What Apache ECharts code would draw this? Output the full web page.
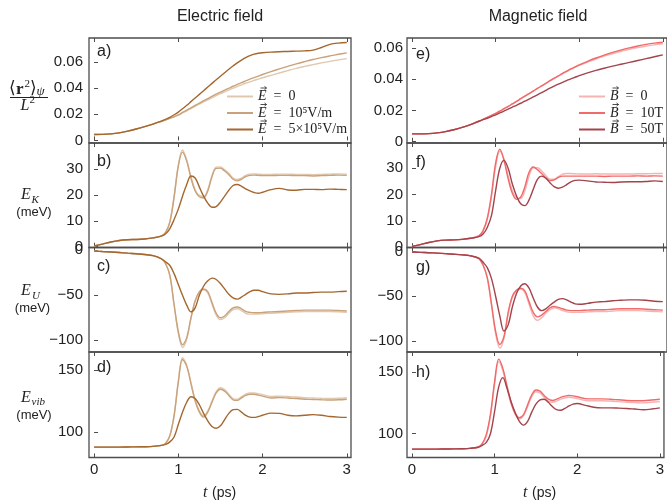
<!DOCTYPE html>
<html><head><meta charset="utf-8">
<script src="https://cdn.jsdelivr.net/npm/echarts@6/dist/echarts.min.js"></script>
<style>html,body{margin:0;padding:0;background:#fff}#c{width:667px;height:500px}</style>
</head><body><div id="c"></div><script>
// time grid (ps)
const T = [0,0.1,0.2,0.3,0.4,0.5,0.6,0.7,0.8,0.85,0.9,0.95,1.0,1.05,1.1,1.15,1.2,1.25,1.3,1.35,1.4,1.45,1.5,1.55,1.6,1.65,1.7,1.75,1.8,1.85,1.9,1.95,2.0,2.1,2.2,2.3,2.4,2.5,2.6,2.7,2.8,2.9,3.0];

// a) <r^2>/L^2, electric field
const aE0 = [0.0045,0.0046,0.005,0.0058,0.0071,0.0087,0.0105,0.0125,0.0147,0.0158,0.017,0.0181,0.0193,0.021,0.0227,0.0244,0.0261,0.0278,0.0295,0.0311,0.0327,0.0343,0.0358,0.0372,0.0386,0.04,0.0413,0.0426,0.0438,0.0449,0.046,0.047,0.048,0.0499,0.0517,0.0535,0.0552,0.0567,0.0581,0.0594,0.0606,0.0617,0.0627];
const aE1 = [0.0045,0.0046,0.005,0.0058,0.0071,0.0087,0.0105,0.0125,0.0147,0.0158,0.017,0.0181,0.0196,0.0214,0.0232,0.025,0.0268,0.0286,0.0304,0.0321,0.0338,0.0354,0.037,0.0385,0.04,0.0415,0.0429,0.0443,0.0456,0.0469,0.0481,0.0493,0.0505,0.0527,0.0548,0.0568,0.0587,0.0604,0.062,0.0635,0.0648,0.066,0.0671];
const aE5 = [0.0045,0.0046,0.005,0.0058,0.0071,0.0087,0.0105,0.0125,0.0147,0.0162,0.0177,0.0196,0.0217,0.0242,0.0269,0.0297,0.0325,0.0353,0.0381,0.0409,0.0437,0.0465,0.0492,0.0519,0.0545,0.057,0.0594,0.0615,0.0634,0.065,0.0661,0.0668,0.0672,0.0677,0.068,0.0682,0.0684,0.0686,0.0692,0.0712,0.0736,0.0746,0.075];

// b) E_K (meV), electric field
const bE0 = [0.3,1.0,1.8,2.4,2.7,2.8,3.0,3.4,4.2,5.6,9.8,19.5,31.5,37.3,33.5,27,22,19.8,19.3,22,27.5,30.7,30.8,29.7,28.3,26.5,25.9,26.5,27.5,28,28.1,28,27.9,27.9,28,28,27.9,27.9,27.8,27.9,28,28.1,28];
const bE1 = [0.3,1.0,1.8,2.4,2.7,2.8,3.0,3.4,4.2,5.5,9.5,19,31,36.5,33,26.5,21.5,19.3,18.8,21.5,27,30.2,30.3,29.2,27.8,26,25.4,26,27,27.5,27.6,27.5,27.4,27.4,27.5,27.5,27.4,27.4,27.3,27.4,27.5,27.6,27.5];
const bE5 = [0.3,1.0,1.8,2.4,2.7,2.8,3.0,3.4,4.1,5.0,7.0,10.5,14.5,19.5,24,27.3,26.5,23,19.5,16.8,15.2,15.5,17.2,19.5,21.8,23.6,24,23.3,22.3,21.5,20.9,20.6,21,22,22.5,21.9,21.8,22.1,22.1,22,22.2,22.1,22];

// c) E_U (meV), electric field
const cE0 = [-1,-1.5,-2,-2.6,-3.3,-4,-4.8,-6,-9.5,-15,-28.5,-61,-92,-108,-99,-76,-57,-47,-44,-47.5,-60,-72,-77,-75,-70,-66,-65,-67,-70,-71,-71,-71,-70.5,-70,-69.5,-69,-68.5,-68,-68,-68,-68,-68.5,-69];
const cE1 = [-1,-1.5,-2,-2.6,-3.3,-4,-4.8,-6,-9.5,-15,-28,-60,-90,-105,-97,-75,-56,-46,-43,-46,-58,-70,-75,-73,-68,-64,-63,-65,-68,-69,-69.5,-69.5,-69,-68.5,-68,-67.5,-67,-66.5,-66.5,-66.5,-66.5,-67,-67.5];
const cE5 = [-1,-1.5,-2,-2.6,-3.3,-4,-4.8,-6,-9.5,-13,-17,-26,-38,-50,-61,-68.5,-64,-50,-40,-34,-31,-32.5,-37,-43,-49,-53,-54.3,-52,-49,-46,-44.5,-44.5,-46,-48.5,-49,-48.5,-47.5,-47.5,-47,-46.5,-46.5,-46,-45.5];

// d) E_vib (meV), electric field
const dE0 = [87.8,87.8,87.8,87.8,87.9,88,88.1,88.4,89.2,91,97.3,113.5,141,160,154,140,126,117,113,117,125,132.5,135.7,134.2,130.5,127,126.5,128.5,130.5,131.6,131.6,131,130.2,128.7,129,128.7,128.2,127.7,127.5,127.2,127,127.2,127.7];
const dE1 = [87.8,87.8,87.8,87.8,87.9,88,88.1,88.4,89.2,91,97,113,140,158.5,153,139,125,116,112,116,124,131.5,134.5,133,129.5,126,125.5,127.5,129.5,130.5,130.5,129.8,129,127.5,127.8,127.5,127,126.5,126.3,126,125.8,126,126.5];
const dE5 = [87.8,87.8,87.8,87.8,87.9,88,88.1,88.4,89.2,90,92,96,106,116,124,128.5,127,122,115,109,104.5,103,105,110,115,118,118.3,116,113.5,112,111.8,112.5,113.5,115.2,115,113.5,113,113.5,114,113.5,112.5,112,111.8];

// e) <r^2>/L^2, magnetic field
const eB0 = [0.005,0.005,0.0052,0.0057,0.0065,0.0077,0.0092,0.011,0.0131,0.0143,0.0155,0.0168,0.0182,0.0196,0.0211,0.0226,0.0242,0.0258,0.0275,0.0291,0.0308,0.0324,0.0341,0.0357,0.0373,0.0389,0.0404,0.0419,0.0434,0.0448,0.0462,0.0475,0.0488,0.0509,0.0529,0.0547,0.0563,0.0578,0.0591,0.0602,0.0611,0.0619,0.0626];
const eB10 = [0.005,0.005,0.0052,0.0057,0.0065,0.0077,0.0092,0.011,0.0131,0.0143,0.0155,0.0168,0.0182,0.0196,0.0211,0.0226,0.0242,0.0258,0.0275,0.0291,0.0308,0.0324,0.0341,0.0357,0.0373,0.039,0.0406,0.0421,0.0437,0.0451,0.0465,0.0478,0.0491,0.0514,0.0535,0.0554,0.0571,0.0586,0.06,0.0612,0.0622,0.063,0.0636];
const eB50 = [0.005,0.005,0.0052,0.0057,0.0065,0.0077,0.0092,0.011,0.0131,0.0141,0.015,0.0161,0.0172,0.0184,0.0196,0.0208,0.0221,0.0233,0.0246,0.0259,0.0273,0.0286,0.03,0.0314,0.0328,0.0342,0.0355,0.0368,0.038,0.0391,0.0402,0.0412,0.0422,0.044,0.0456,0.047,0.0483,0.0495,0.0507,0.0519,0.0531,0.0543,0.0555];

// f) E_K (meV), magnetic field
const fB0 = [0.3,1.0,1.8,2.4,2.7,2.8,3.0,3.4,4.3,6.0,10.5,19,30.5,36.5,33.5,27,21.5,18.8,18.5,21.5,27,30.2,30.2,29,27.3,25.8,25.8,26.8,27.8,28,28,27.9,27.8,27.8,27.9,27.8,27.8,27.8,27.8,27.9,27.9,28,28];
const fB10 = [0.3,1.0,1.8,2.4,2.7,2.8,3.0,3.4,4.3,6.3,11,20,32,37.2,33,26,20.5,18.2,19,23,28.5,30.5,29.5,28,26.5,25.3,25.6,26.5,27,27,27,27,27,27,27,26.9,27,27,27,27.1,27,27.1,27];
const fB50 = [0.3,1.0,1.8,2.4,2.7,2.8,3.0,3.4,4.0,5.0,7.5,12,21.5,30,33,30,24,19.5,16.5,15.8,18,22,25.8,27,26.2,24.5,23,22.4,22.8,23.8,24.8,25.4,25.5,25.2,24.8,24.7,24.6,24.8,24.9,24.9,25,25.2,25];

// g) E_U (meV), magnetic field
const gB0 = [-0.5,-0.9,-1.3,-1.8,-2.4,-3,-3.7,-4.8,-8,-15,-30,-60,-92,-108,-97,-70,-51,-44,-42,-46,-59,-72,-77,-74,-69,-65,-63,-64,-66,-67.5,-68,-68,-68,-67.5,-67,-67,-66.5,-66,-66,-66,-66.5,-67,-67.5];
const gB10 = [-0.5,-0.9,-1.3,-1.8,-2.4,-3,-3.7,-4.8,-8,-15,-29,-58,-89,-104,-95,-68,-50,-43,-41,-44,-56,-68,-73,-71,-67,-63,-61.5,-62.5,-64,-65.5,-66,-66,-66,-65.5,-65,-65,-64.5,-64,-64,-64,-64.5,-65,-65.5];
const gB50 = [-0.5,-0.9,-1.3,-1.8,-2.4,-3,-3.7,-4.8,-7.5,-12,-18,-30,-50,-72,-89,-82,-62,-47,-38.5,-36,-41,-52,-62,-66,-64,-60,-56.5,-53.5,-52.6,-54,-56.5,-58.5,-59,-58,-56.5,-56,-55,-54.5,-54,-54,-54.5,-55.5,-56];

// h) E_vib (meV), magnetic field
const hB0 = [87.5,87.5,87.5,87.5,87.6,87.7,87.8,88.1,89,91.5,98,114,140,158.5,151,137,124,115.5,112,114.5,122,130,134,133,129.5,126.5,125.5,126.5,128,129,129.5,129.2,128.5,127,126.8,126.8,126.5,126,125.5,125.2,125,125.5,126];
const hB10 = [87.5,87.5,87.5,87.5,87.6,87.7,87.8,88.1,89,92,99.5,116,142,160.5,153,139,125.5,116.5,113,115.5,123.5,131.5,135.5,134.5,131,128,127,128,129.5,130.5,131,130.7,130,128.5,128.3,128.3,128,127.5,127,126.8,126.8,127.3,128];
const hB50 = [87.5,87.5,87.5,87.5,87.6,87.7,87.8,88.1,89,90.5,93,100,118,138,145.5,137,126,117,110,107,110,117.5,124,127.5,128,125.5,122,119.5,119,120.5,122.5,124,124.5,123,121.5,121,121,120.8,120.5,120,119.5,120,121];

// tick labels
const xTicks = [0,1,2,3];
const yTicksR2 = [0,0.02,0.04,0.06];
const yTicksEK = [0,10,20,30];
const yTicksEU = [-100,-50,0];
const yTicksEvib = [100,150];

const legendLabels = {
  E0:'{i|E}\u2002=\u20020', E1:'{i|E}\u2002=\u200210⁵V/m', E5:'{i|E}\u2002=\u20025×10⁵V/m',
  B0:'{i|B}\u2002=\u20020', B10:'{i|B}\u2002=\u200210T', B50:'{i|B}\u2002=\u200250T'
};
const colors = {E0:'#e0c8ae', E1:'#c9a27c', E5:'#a4672e', B0:'#f7b2b2', B10:'#f06a6a', B50:'#a3434b'};

const colLeft = [89, 407], colW = 262;
const rowTops = [38, 143, 247.5, 352], rowHs = [105, 104.5, 104.5, 105.5];

const r2fmt = v => v === 0 ? '0' : v.toFixed(2);
const numfmt = v => String(v).replace('-', '\u2212');

const panels = [
  {col:0,row:0,y:[-0.002,0.0785],ticks:yTicksR2,fmt:r2fmt,lm:6,s:[['E0',aE0],['E1',aE1],['E5',aE5]]},
  {col:0,row:1,y:[-0.3,40],ticks:yTicksEK,fmt:numfmt,lm:6,s:[['E0',bE0],['E1',bE1],['E5',bE5]]},
  {col:0,row:2,y:[-113,3],ticks:yTicksEU,fmt:numfmt,lm:6,s:[['E0',cE0],['E1',cE1],['E5',cE5]]},
  {col:0,row:3,y:[79.4,164.6],ticks:yTicksEvib,fmt:numfmt,lm:6,s:[['E0',dE0],['E1',dE1],['E5',dE5]]},
  {col:1,row:0,y:[-0.0008,0.0663],ticks:yTicksR2,fmt:r2fmt,lm:4,s:[['B0',eB0],['B10',eB10],['B50',eB50]]},
  {col:1,row:1,y:[-0.1,39.6],ticks:yTicksEK,fmt:numfmt,lm:4,s:[['B0',fB0],['B10',fB10],['B50',fB50]]},
  {col:1,row:2,y:[-112.3,4.5],ticks:yTicksEU,fmt:numfmt,lm:4,s:[['B0',gB0],['B10',gB10],['B50',gB50]]},
  {col:1,row:3,y:[80.7,166.3],ticks:yTicksEvib,fmt:numfmt,lm:4,s:[['B0',hB0],['B10',hB10],['B50',hB50]]}
];

const FRAME = '#4d4d4d';
const SANS = 'Liberation Sans, Arial, sans-serif';
const SERIF = 'Liberation Serif, DejaVu Serif, serif';
const grid = [], xAxis = [], yAxis = [], series = [];
panels.forEach((p, i) => {
  grid.push({left: colLeft[p.col], top: rowTops[p.row], width: colW, height: rowHs[p.row],
    show: true, borderColor: FRAME, borderWidth: 1.3, backgroundColor: 'transparent', containLabel: false});
  const tick = {show: true, inside: true, length: 4, customValues: xTicks, lineStyle: {color: FRAME, width: 1}};
  xAxis.push({type:'value', gridIndex:i, position:'bottom', min:-0.06, max:3.05,
    axisLine:{show:false}, splitLine:{show:false}, axisTick: tick,
    axisLabel:{show: p.row === 3, customValues: xTicks, margin: 5, fontSize: 15, color:'#222', fontFamily: SANS}});
  xAxis.push({type:'value', gridIndex:i, position:'top', min:-0.06, max:3.05,
    axisLine:{show:false}, splitLine:{show:false}, axisTick: tick, axisLabel:{show:false}});
  yAxis.push({type:'value', gridIndex:i, min:p.y[0], max:p.y[1],
    axisLine:{show:false}, splitLine:{show:false},
    axisTick:{show:true, inside:true, length:4, customValues:p.ticks, lineStyle:{color:FRAME, width:1}},
    axisLabel:{customValues:p.ticks, formatter:p.fmt, margin:p.lm, fontSize:15, color:'#222', fontFamily:SANS, showMinLabel:true, showMaxLabel:true}});
  p.s.forEach(([name, vals]) => {
    series.push({type:'line', name, xAxisIndex: 2*i, yAxisIndex: i,
      data: T.map((t, k) => [t, vals[k]]), showSymbol:false, symbol:'none', smooth:0.35,
      lineStyle:{width:1.4, color: colors[name]}, itemStyle:{color: colors[name]}, animation:false});
  });
});

const legendCommon = {orient:'vertical', icon:'rect', itemWidth:26, itemHeight:2, itemGap:2.5, padding:0, selectedMode:false,
  formatter: n => legendLabels[n],
  textStyle:{fontSize:14, lineHeight:14, color:'#222', fontFamily:SERIF,
    rich:{i:{fontStyle:'italic', fontSize:14, lineHeight:14, fontFamily:SERIF}}}};
const legend = [
  Object.assign({}, legendCommon, {left:227, top:89.5, data:['E0','E1','E5']}),
  Object.assign({}, legendCommon, {left:579, top:89.5, data:['B0','B10','B50']})
];

function txt(x, y, text, font, extra) {
  return {type:'text', x, y, style:Object.assign({text, font, fill:'#222', textVerticalAlign:'middle'}, extra||{})};
}
const graphic = [
  txt(220, 17, 'Electric field', '16px ' + SANS, {textAlign:'center'}),
  txt(538, 17, 'Magnetic field', '16px ' + SANS, {textAlign:'center'}),
  // panel letters
  txt(97, 52, 'a)', '16px ' + SANS), txt(97, 162, 'b)', '16px ' + SANS),
  txt(97, 267, 'c)', '16px ' + SANS), txt(97, 368, 'd)', '16px ' + SANS),
  txt(416, 55, 'e)', '16px ' + SANS), txt(416, 163, 'f)', '16px ' + SANS),
  txt(416, 268, 'g)', '16px ' + SANS), txt(416, 373, 'h)', '16px ' + SANS),
  // fraction label <r^2>_psi / L^2
  txt(9, 88.5, '\u27E8', '17px ' + SERIF),
  txt(16, 89.5, 'r', 'bold 17px ' + SERIF),
  txt(24.5, 84.5, '2', '11px ' + SERIF),
  txt(30, 88.5, '\u27E9', '17px ' + SERIF),
  txt(36.5, 92, '\u03C8', 'italic 13px ' + SERIF),
  {type:'line', shape:{x1:10, y1:97.5, x2:48, y2:97.5}, style:{stroke:'#222', lineWidth:1}},
  txt(20.5, 106, 'L', 'italic 16px ' + SERIF),
  txt(29.5, 100.5, '2', '11px ' + SERIF),
  // E_K
  txt(21, 195, 'E', 'italic 16px ' + SERIF),
  txt(31.5, 200, 'K', 'italic 11px ' + SERIF),
  txt(34, 212.5, '(meV)', '13px ' + SANS, {textAlign:'center'}),
  // E_U
  txt(21, 290.5, 'E', 'italic 16px ' + SERIF),
  txt(32, 296, 'U', 'italic 11px ' + SERIF),
  txt(32.5, 308, '(meV)', '13px ' + SANS, {textAlign:'center'}),
  // E_vib
  txt(21, 398, 'E', 'italic 16px ' + SERIF),
  txt(31.5, 402, 'vib', 'italic 11px ' + SERIF),
  txt(34, 415.5, '(meV)', '13px ' + SANS, {textAlign:'center'}),
  // x labels
  txt(203, 493, 't', 'italic 16px ' + SERIF),
  txt(212, 493, '(ps)', '14px ' + SANS),
  txt(523, 493, 't', 'italic 16px ' + SERIF),
  txt(532, 493, '(ps)', '14px ' + SANS)
];
// small vector arrows above the legend symbols E and B
const legendRowsY = [96.5, 113, 129.5];
const arrowX = [260.5, 612.5];
arrowX.forEach((ax, c) => legendRowsY.forEach((ry, r) => {
  const y = ry - 8.5;
  graphic.push({type:'line', id:'arl'+c+r, z:100, shape:{x1:ax, y1:y, x2:ax+6, y2:y}, style:{stroke:'#222', lineWidth:0.8}});
  graphic.push({type:'polyline', id:'arh'+c+r, z:100, shape:{points:[[ax+4,y-1.6],[ax+6,y],[ax+4,y+1.6]]}, style:{stroke:'#222', lineWidth:0.8, fill:null}});
}));

const chart = echarts.init(document.getElementById('c'), null, {renderer:'canvas'});
chart.setOption({animation:false, backgroundColor:'#fff', grid, xAxis, yAxis, series, legend, graphic});
</script></body></html>
